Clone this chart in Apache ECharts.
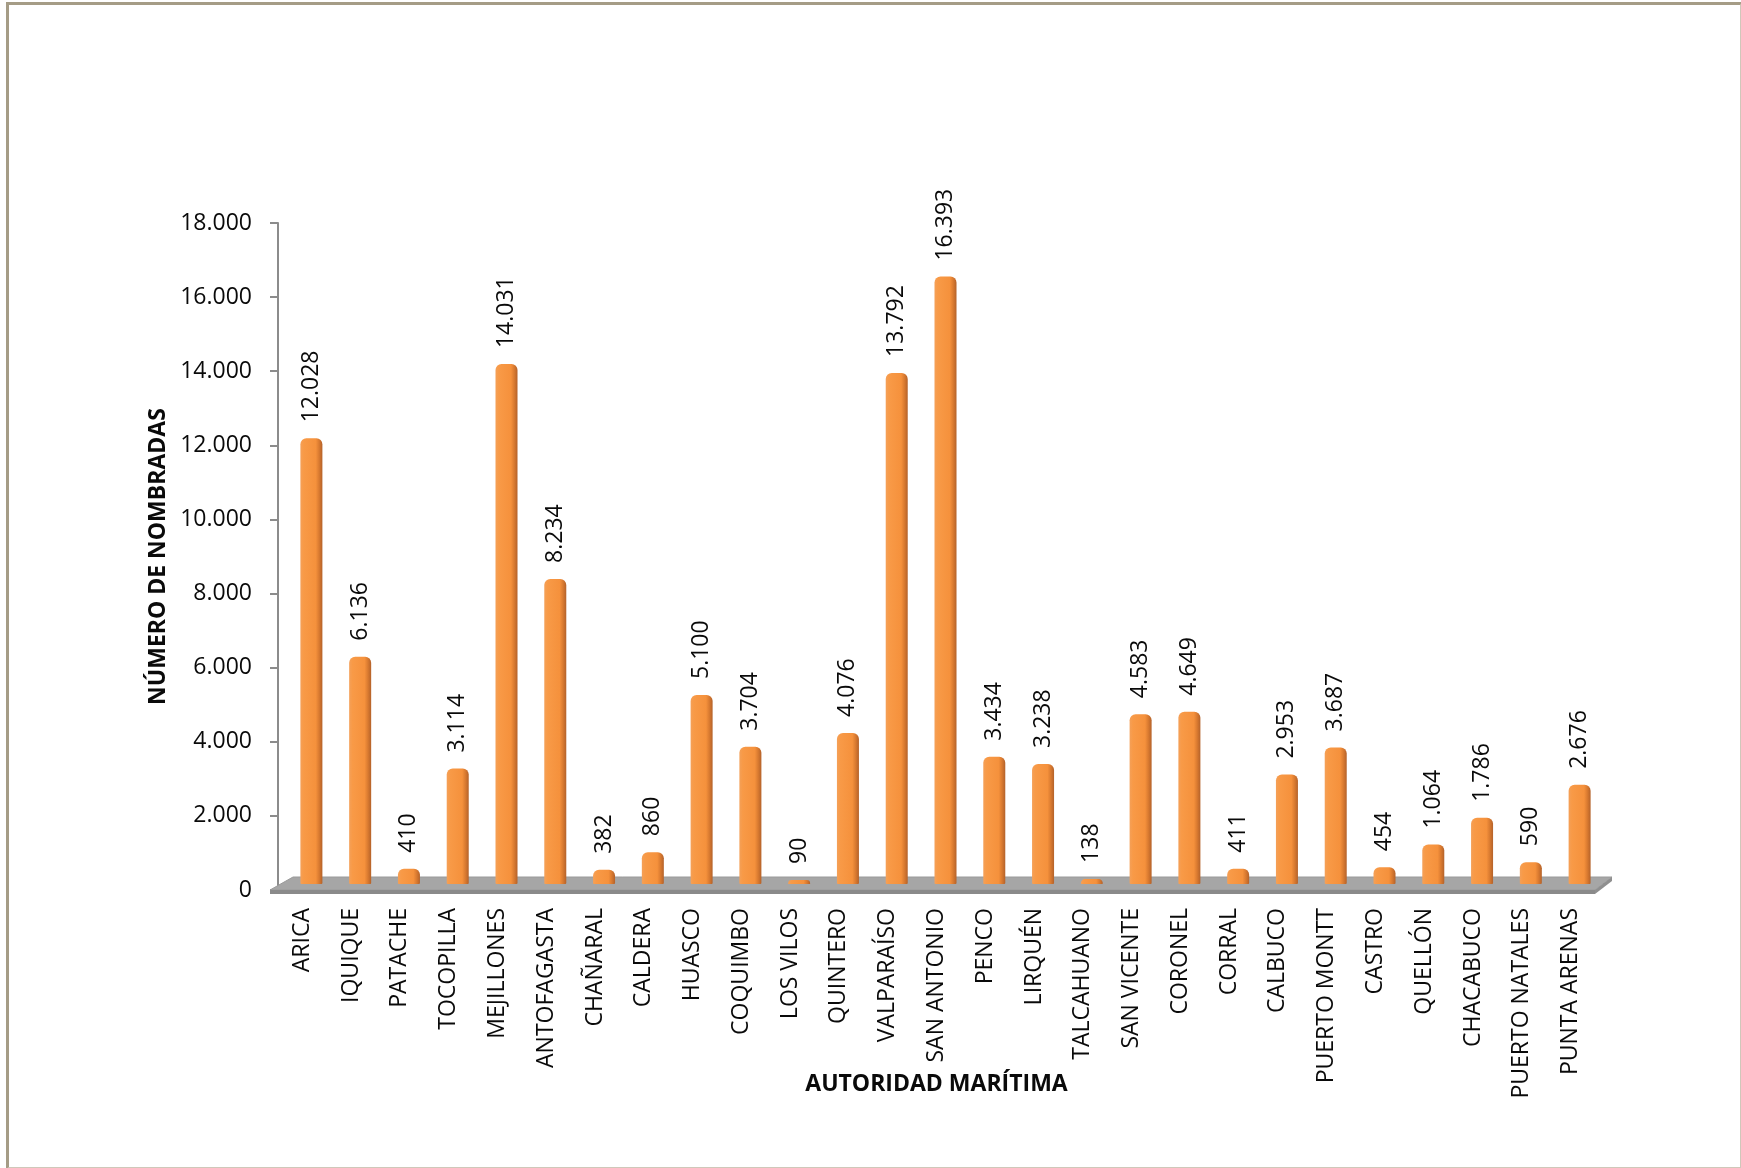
<!DOCTYPE html>
<html>
<head>
<meta charset="utf-8">
<script src="https://cdn.jsdelivr.net/npm/echarts@6/dist/echarts.min.js"></script>
<style>
html,body{margin:0;padding:0;background:#fff;}
#frame{position:absolute;left:6px;top:2px;width:1731px;height:1162px;border:3px solid #a59c86;border-right:2px solid #cfc8ba;border-bottom:2px solid #cfc8ba;box-sizing:content-box;}
#chart{position:absolute;left:0;top:0;width:1741px;height:1168px;}
</style>
</head>
<body>
<div id="frame"></div>
<div id="chart"></div>
<script>
const categories = ['ARICA','IQUIQUE','PATACHE','TOCOPILLA','MEJILLONES','ANTOFAGASTA','CHAÑARAL','CALDERA','HUASCO','COQUIMBO','LOS VILOS','QUINTERO','VALPARAÍSO','SAN ANTONIO','PENCO','LIRQUÉN','TALCAHUANO','SAN VICENTE','CORONEL','CORRAL','CALBUCO','PUERTO MONTT','CASTRO','QUELLÓN','CHACABUCO','PUERTO NATALES','PUNTA ARENAS'];
const values = [12028,6136,410,3114,14031,8234,382,860,5100,3704,90,4076,13792,16393,3434,3238,138,4583,4649,411,2953,3687,454,1064,1786,590,2676];
const yTicks = [0,2000,4000,6000,8000,10000,12000,14000,16000,18000];
const yTitle = 'NÚMERO DE NOMBRADAS';
const xTitle = 'AUTORIDAD MARÍTIMA';

function fmt(v){ return String(v).replace(/\B(?=(\d{3})+(?!\d))/g,'.'); }

const FONT = '"Open Sans", "Liberation Sans", sans-serif';
const TXT = '#0a0a0a';
const chart = echarts.init(document.getElementById('chart'));

const option = {
  animation:false,
  grid:[
    {left:278,right:146,top:223,bottom:278},
    {left:287,right:137,top:217,bottom:284}
  ],
  xAxis:[
    {type:'category',gridIndex:0,data:categories,
     axisLine:{show:false},axisTick:{show:false},
     axisLabel:{rotate:90,interval:0,margin:18,fontSize:23,color:TXT,fontFamily:FONT},
     name:xTitle,nameLocation:'middle',nameGap:183,nameMoveOverlap:false,
     nameTextStyle:{fontSize:23,fontWeight:'bold',color:TXT,fontFamily:FONT}},
    {type:'category',gridIndex:1,data:categories,show:false}
  ],
  yAxis:[
    {type:'value',gridIndex:0,min:yTicks[0],max:yTicks[yTicks.length-1],interval:yTicks[1]-yTicks[0],
     axisLine:{show:true,lineStyle:{color:'#8c8c8c',width:2}},
     axisTick:{show:true,length:8,lineStyle:{color:'#8c8c8c',width:2}},
     splitLine:{show:false},
     axisLabel:{margin:26,fontSize:23,color:TXT,fontFamily:FONT,formatter:fmt},
     name:yTitle,nameLocation:'middle',nameGap:108,nameMoveOverlap:false,
     nameTextStyle:{fontSize:23,fontWeight:'bold',color:TXT,fontFamily:FONT}},
    {type:'value',gridIndex:1,min:yTicks[0],max:yTicks[yTicks.length-1],show:false}
  ],
  series:[
    {type:'custom',xAxisIndex:0,yAxisIndex:0,silent:true,z:1,clip:false,
     data:[[0,0]],
     renderItem:function(params,api){
       const cs=params.coordSys;
       const x=cs.x,y=cs.y+cs.height,w=cs.width;
       return {type:'group',children:[
         {type:'polygon',shape:{points:[[x-8,y],[x+w,y],[x+w+17,y-13],[x+15,y-13]]},
          style:{fill:'#a6a6a6',stroke:'#9a9a9a',lineWidth:1}},
         {type:'polygon',shape:{points:[[x-8,y],[x+w,y],[x+w,y+4],[x-8,y+4]]},
          style:{fill:'#8a8a8a'}},
         {type:'polygon',shape:{points:[[x+w,y],[x+w+17,y-13],[x+w+17,y-9],[x+w,y+4]]},
          style:{fill:'#8f8f8f'}}
       ]};
     }},
    {type:'bar',xAxisIndex:1,yAxisIndex:1,data:values,barWidth:22,barMinHeight:4,z:3,
     itemStyle:{
       borderRadius:[6,6,1,1],
       color:new echarts.graphic.LinearGradient(0,0,1,0,[
         {offset:0,color:'#f4a058'},
         {offset:0.15,color:'#f89a47'},
         {offset:0.7,color:'#f5913c'},
         {offset:0.85,color:'#d97a30'},
         {offset:1,color:'#b4622a'}])
     },
     label:{show:true,position:'top',rotate:90,align:'left',verticalAlign:'middle',distance:16,
       fontSize:23,color:TXT,fontFamily:FONT,formatter:function(p){return fmt(p.value);}}}
  ]
};
chart.setOption(option);
</script>
</body>
</html>
